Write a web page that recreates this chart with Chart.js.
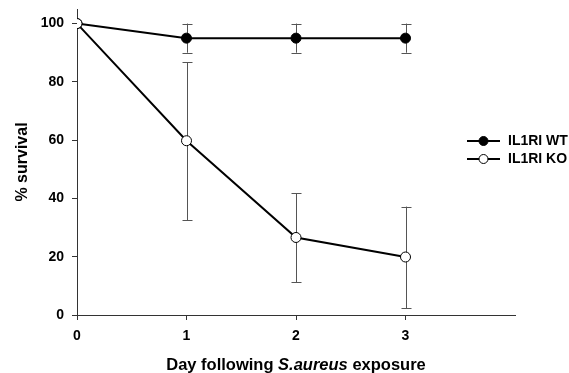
<!DOCTYPE html>
<html>
<head>
<meta charset="utf-8">
<script src="https://cdn.jsdelivr.net/npm/chart.js@4/dist/chart.umd.min.js"></script>
<style>
  html, body { margin: 0; padding: 0; background: #fff; }
  #wrap { width: 569px; height: 373px; position: relative; }
</style>
</head>
<body>
<div id="wrap"><canvas id="chart" width="569" height="373"></canvas></div>
<script>
(function(){
  var days = [0, 1, 2, 3];
  var wtLabel = 'IL1RI WT';
  var koLabel = 'IL1RI KO';
  var wtValues = [100, 95, 95, 95];
  var wtErr = [0, 5, 5, 5];
  var koValues = [100, 59.8, 26.6, 19.9];
  var koErrUp = [0, 26.9, 15.1, 17.3];
  var koErrDown = [0, 27.2, 15.4, 17.5];
  var yTicks = [0, 20, 40, 60, 80, 100];
  var xTicks = [0, 1, 2, 3];
  var yTitle = '% survival';
  var xTitleParts = [['Day following ', 'bold'], ['S.aureus', 'italic bold'], [' exposure', 'bold']];

  var FONT = 'Liberation Sans, Arial, sans-serif';

  function pts(values){
    return values.map(function(v, i){ return { x: days[i], y: v }; });
  }

  var errorBars = {
    id: 'errorBars',
    beforeDatasetsDraw: function(chart){
      var ctx = chart.ctx;
      var xs = chart.scales.x, ys = chart.scales.y;
      ctx.save();
      ctx.strokeStyle = '#555';
      ctx.lineWidth = 1;
      function bar(x, hi, lo){
        var px = Math.round(xs.getPixelForValue(x)) + 0.5;
        var top = ys.getPixelForValue(hi), bot = ys.getPixelForValue(lo);
        ctx.beginPath();
        ctx.moveTo(px, top); ctx.lineTo(px, bot);
        ctx.moveTo(px - 5, Math.round(top) + 0.5); ctx.lineTo(px + 5, Math.round(top) + 0.5);
        ctx.moveTo(px - 5, Math.round(bot) + 0.5); ctx.lineTo(px + 5, Math.round(bot) + 0.5);
        ctx.stroke();
      }
      days.forEach(function(d, i){
        if (wtErr[i]) bar(d, wtValues[i] + wtErr[i], wtValues[i] - wtErr[i]);
        if (koErrUp[i]) bar(d, koValues[i] + koErrUp[i], koValues[i] - koErrDown[i]);
      });
      ctx.restore();
    }
  };

  var extras = {
    id: 'extras',
    afterDraw: function(chart){
      var ctx = chart.ctx;
      ctx.save();
      // legend
      var rows = [[wtLabel, '#000'], [koLabel, '#fff']];
      rows.forEach(function(r, i){
        var y = 141 + i * 18;
        ctx.strokeStyle = '#000';
        ctx.lineWidth = 2;
        ctx.beginPath(); ctx.moveTo(467, y); ctx.lineTo(500, y); ctx.stroke();
        ctx.beginPath(); ctx.arc(483.5, y, 4.5, 0, Math.PI * 2);
        ctx.fillStyle = r[1]; ctx.fill();
        ctx.lineWidth = 1; ctx.stroke();
        ctx.fillStyle = '#000';
        ctx.font = 'bold 14px ' + FONT;
        ctx.textBaseline = 'middle';
        ctx.textAlign = 'left';
        ctx.fillText(r[0], 508, y + 0.5);
      });
      // x title with italic part
      var size = 16.5;
      var total = 0;
      xTitleParts.forEach(function(p){ ctx.font = p[1] + ' ' + size + 'px ' + FONT; total += ctx.measureText(p[0]).width; });
      var x = 296 - total / 2;
      ctx.textBaseline = 'middle';
      ctx.textAlign = 'left';
      ctx.fillStyle = '#000';
      xTitleParts.forEach(function(p){
        ctx.font = p[1] + ' ' + size + 'px ' + FONT;
        ctx.fillText(p[0], x, 365);
        x += ctx.measureText(p[0]).width;
      });
      ctx.restore();
    }
  };

  new Chart(document.getElementById('chart'), {
    type: 'line',
    data: {
      datasets: [{
        label: koLabel,
        data: pts(koValues),
        borderColor: '#000',
        borderWidth: 2,
        pointRadius: 5,
        pointBackgroundColor: '#fff',
        pointBorderColor: '#000',
        pointBorderWidth: 1,
        tension: 0
      }, {
        label: wtLabel,
        data: pts(wtValues),
        borderColor: '#000',
        borderWidth: 2,
        pointRadius: 5,
        pointBackgroundColor: '#000',
        pointBorderColor: '#000',
        pointBorderWidth: 1,
        tension: 0
      }]
    },
    options: {
      responsive: false,
      animation: false,
      layout: { padding: { top: 9, right: 54, left: 0, bottom: 0 } },
      plugins: { legend: { display: false }, tooltip: { enabled: false } },
      scales: {
        x: {
          type: 'linear',
          min: 0,
          max: 4,
          afterBuildTicks: function(s){ s.ticks = xTicks.concat([4]).map(function(v){ return { value: v }; }); },
          afterFit: function(s){ s.height = 58; s.paddingLeft = 0; s.paddingRight = 0; },
          border: { display: true, color: '#333', width: 1 },
          grid: {
            drawOnChartArea: false,
            tickLength: 5,
            color: function(c){ return c.tick && c.tick.value === 4 ? 'rgba(0,0,0,0)' : '#333'; }
          },
          ticks: {
            color: '#000',
            padding: 8,
            font: { family: FONT, size: 14, weight: 'bold' },
            callback: function(v){ return xTicks.indexOf(v) >= 0 ? String(v) : ''; }
          }
        },
        y: {
          min: 0,
          max: 105,
          afterBuildTicks: function(s){ s.ticks = yTicks.map(function(v){ return { value: v }; }); },
          afterFit: function(s){ s.width = 77; s.paddingTop = 0; s.paddingBottom = 0; },
          border: { display: true, color: '#333', width: 1 },
          grid: { drawOnChartArea: false, tickLength: 5, color: '#333' },
          ticks: {
            color: '#000',
            padding: 8,
            font: { family: FONT, size: 14, weight: 'bold' }
          },
          title: {
            display: true,
            text: yTitle,
            color: '#000',
            padding: { top: 13, bottom: 4 },
            font: { family: FONT, size: 16, weight: 'bold' }
          }
        }
      }
    },
    plugins: [errorBars, extras]
  });
})();
</script>
</body>
</html>
